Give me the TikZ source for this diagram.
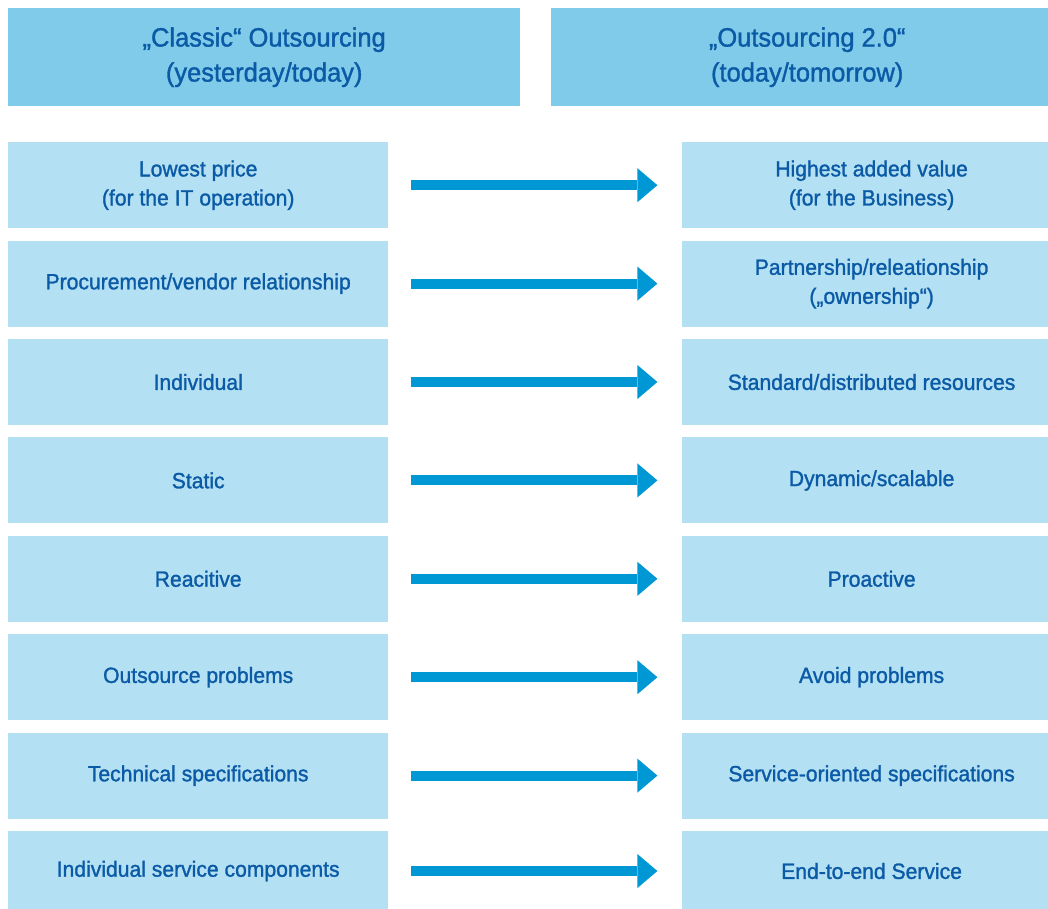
\documentclass[tikz,border=0pt]{standalone}
\usepackage{fontspec}
\setmainfont{Liberation Sans}[FakeStretch=0.96, FakeBold=1.3]
\usetikzlibrary{positioning,arrows.meta}

\definecolor{headblue}{HTML}{80CBEA}
\definecolor{cellblue}{HTML}{B3E0F3}
\definecolor{arrowblue}{HTML}{0098D4}
\definecolor{textblue}{HTML}{0A5AA5}

\tikzset{
  hdr/.style={fill=headblue, text=textblue, minimum width=512pt, minimum height=98pt,
    inner sep=0pt, anchor=north west, align=center, font=\fontsize{26.5}{35}\selectfont},
  cell/.style={fill=cellblue, text=textblue, minimum width=380pt, minimum height=86pt,
    inner sep=0pt, align=center, font=\fontsize{22}{29}\selectfont},
  shiftarrow/.style={arrowblue, line width=10pt,
    -{Triangle[length=20pt,width=34pt,line width=0pt]},
    shorten <=23pt, shorten >=24pt}
}

\begin{document}
\begin{tikzpicture}[x=1pt, y=-1pt, node distance=12pt]
    \useasboundingbox (0,0) rectangle (1048,908);

    % Intestazioni
    \node[hdr] (hl) at (8,8) {„Classic“ Outsourcing\\(yesterday/today)};
    \node[hdr] (hr) at (551,8) {„Outsourcing 2.0“\\(today/tomorrow)};

    % Colonna sinistra
    \node[cell, anchor=north west] (l1) at (8,142) {Lowest price\\(for the IT operation)};
    \node[cell, below=of l1] (l2) {Procurement/vendor relationship};
    \node[cell, below=of l2] (l3) {Individual};
    \node[cell, below=of l3] (l4) {Static};
    \node[cell, below=of l4] (l5) {Reacitive};
    \node[cell, below=of l5] (l6) {Outsource problems};
    \node[cell, below=of l6] (l7) {Technical specifications};
    \node[cell, below=of l7, minimum height=80pt] (l8) {Individual service components};

    % Colonna destra
    \node[cell, right=293pt of l1] (r1) {Highest added value\\(for the Business)};
    \node[cell, right=293pt of l2] (r2) {Partnership/releationship\\(„ownership“)};
    \node[cell, right=293pt of l3] (r3) {Standard/distributed resources};
    \node[cell, right=293pt of l4] (r4) {Dynamic/scalable};
    \node[cell, right=293pt of l5] (r5) {Proactive};
    \node[cell, right=293pt of l6] (r6) {Avoid problems};
    \node[cell, right=293pt of l7] (r7) {Service-oriented specifications};
    \node[cell, right=293pt of l8, minimum height=80pt] (r8) {End-to-end Service};

    % Frecce
    \foreach \i in {1,...,8}
        \draw[shiftarrow] (l\i.east) -- (r\i.west);
\end{tikzpicture}
\end{document}
